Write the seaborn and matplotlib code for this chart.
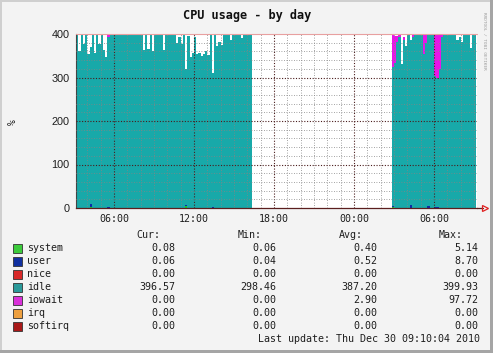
import pandas as pd
import matplotlib
matplotlib.use("Agg")
import matplotlib.pyplot as plt
from matplotlib.patches import Rectangle
from matplotlib.ticker import FixedLocator, MultipleLocator
import seaborn as sns

W, H = 497, 359

series = ["system", "user", "nice", "idle", "iowait", "irq", "softirq"]
fill_colors = ["#22CC22", "#0D2BA8", "#E02020", "#18A9A9", "#E815E8", "#F0A030", "#A01010"]
legend_colors = ["#3CCB3C", "#1030A0", "#D82828", "#2A9A9A", "#D930D9", "#EEA040", "#A81818"]

# 10 minute samples, hours counted from Dec 29 00:00
sample_step = 1 / 6
seg1_start = 3 + 10 / 60   # 03:10
seg2_start = 26 + 50 / 60  # 02:50 next day

idle1 = [399, 360, 396, 375, 398, 352, 360, 398, 356, 397,
         376, 398, 362, 345, 392, 399, 399, 399, 399, 398,
         399, 399, 399, 398, 399, 399, 398, 399, 399, 399,
         362, 396, 365, 398, 360, 398, 396, 399, 397, 362,
         399, 398, 399, 399, 396, 378, 392, 376, 398, 313,
         394, 346, 355, 392, 352, 356, 348, 352, 360, 350,
         396, 310, 398, 372, 380, 374, 398, 399, 399, 386,
         399, 399, 398, 399, 390, 399, 399, 399, 399]
iowait1 = [0, 0, 0, 0, 0, 0, 0, 0, 0, 0,
           0, 0, 0, 2, 6, 0, 0, 0, 0, 0,
           0, 0, 0, 0, 0, 0, 0, 0, 0, 0,
           0, 0, 0, 0, 0, 0, 0, 0, 0, 0,
           0, 0, 0, 0, 0, 0, 0, 0, 0, 0,
           0, 0, 0, 0, 0, 0, 0, 0, 0, 0,
           0, 0, 0, 0, 0, 0, 0, 0, 0, 0,
           0, 0, 0, 0, 0, 0, 0, 0, 0]
user1 = [0.5, 0.4, 0.6, 0.5, 0.4, 0.5, 8.7, 0.6, 0.4, 0.5,
         0.5, 0.4, 0.6, 0.5, 0.7, 0.4, 0.5, 0.4, 0.4, 0.5,
         0.4, 0.5, 0.4, 0.6, 0.4, 0.5, 0.4, 0.5, 0.4, 0.4,
         0.6, 0.5, 0.4, 0.5, 0.6, 0.4, 0.5, 0.4, 0.5, 0.6,
         0.4, 0.5, 0.4, 0.4, 0.5, 0.6, 0.5, 0.6, 0.4, 0.7,
         0.5, 0.6, 0.5, 0.4, 0.6, 0.5, 0.6, 0.5, 0.5, 0.6,
         0.4, 0.7, 0.5, 0.5, 0.4, 0.5, 0.4, 0.4, 0.5, 0.5,
         0.4, 0.5, 0.4, 0.4, 0.5, 0.4, 0.4, 0.5, 0.4]
system1 = [0.4, 0.3, 0.4, 0.4, 0.3, 0.4, 1.2, 0.4, 0.3, 0.4,
           0.4, 0.3, 0.4, 0.5, 0.6, 0.3, 0.4, 0.3, 0.3, 0.4,
           0.3, 0.4, 0.3, 0.4, 0.3, 0.4, 0.3, 0.4, 0.3, 0.3,
           0.4, 0.4, 0.3, 0.4, 0.4, 0.3, 0.4, 0.3, 0.4, 0.4,
           0.3, 0.4, 0.3, 0.3, 0.4, 0.4, 0.4, 0.4, 0.3, 5.14,
           0.4, 0.5, 0.4, 0.3, 0.5, 0.4, 0.5, 0.4, 0.4, 0.5,
           0.3, 0.6, 0.4, 0.4, 0.3, 0.4, 0.3, 0.3, 0.4, 0.4,
           0.3, 0.4, 0.3, 0.3, 0.4, 0.3, 0.3, 0.4, 0.3]

idle2 = [320, 332, 380, 392, 330, 385, 372, 398, 380, 392,
         396, 398, 397, 396, 352, 378, 394, 398, 396, 302,
         298.46, 318, 392, 397, 398, 398, 398, 399, 396, 385,
         392, 380, 398, 397, 396, 366, 398, 396.57]
iowait2 = [75, 62, 15, 4, 0, 8, 0, 0, 0, 4,
           0, 0, 0, 0, 44, 18, 0, 0, 0, 94,
           97.72, 78, 6, 0, 0, 0, 0, 0, 0, 0,
           0, 0, 0, 0, 0, 0, 0, 0]
user2 = [3.0, 0.6, 0.5, 0.4, 0.5, 0.6, 0.4, 0.5, 5.0, 0.5,
         0.4, 0.5, 0.4, 0.5, 0.6, 0.5, 4.0, 0.4, 0.5, 0.7,
         0.8, 0.6, 0.5, 0.4, 0.5, 0.4, 0.4, 0.5, 0.4, 0.5,
         0.4, 0.5, 0.4, 0.4, 0.5, 0.4, 0.4, 0.06]
system2 = [1.5, 0.5, 0.4, 0.3, 0.4, 0.5, 0.3, 0.4, 1.0, 0.4,
           0.3, 0.4, 0.3, 0.4, 0.5, 0.4, 0.8, 0.3, 0.4, 0.6,
           0.7, 0.5, 0.4, 0.3, 0.4, 0.3, 0.3, 0.4, 0.3, 0.4,
           0.3, 0.4, 0.3, 0.3, 0.4, 0.3, 0.3, 0.08]

cur_vals = [0.08, 0.06, 0.00, 396.57, 0.00, 0.00, 0.00]
min_vals = [0.06, 0.04, 0.00, 298.46, 0.00, 0.00, 0.00]
avg_vals = [0.40, 0.52, 0.00, 387.20, 2.90, 0.00, 0.00]
max_vals = [5.14, 8.70, 0.00, 399.93, 97.72, 0.00, 0.00]

x_ticks = [6, 12, 18, 24, 30]
x_tick_labels = ["06:00", "12:00", "18:00", "00:00", "06:00"]
y_ticks = [0, 100, 200, 300, 400]
title = "CPU usage - by day"
last_update = "Last update: Thu Dec 30 09:10:04 2010"
watermark = "RRDTOOL / TOBI OETIKER"

# long table for seaborn's stacked histogram (weights = values)
segments = [
    (seg1_start, {"system": system1, "user": user1, "idle": idle1, "iowait": iowait1}),
    (seg2_start, {"system": system2, "user": user2, "idle": idle2, "iowait": iowait2}),
]
rows = []
for start, vals in segments:
    n = len(vals["idle"])
    for name in series:
        values = vals.get(name, [0.0] * n)
        for i, v in enumerate(values):
            rows.append({"hour": start + (i + 0.5) * sample_step, "series": name, "value": v})
df = pd.DataFrame(rows)


def fx(x):
    return x / W


def fy(y):
    return 1 - y / H


sns.set_style("white")
plt.rcParams["font.family"] = ["DejaVu Sans Mono"]
txt = "#1E1E1E"
mgrid = "#4A1C1C"

fig = plt.figure(figsize=(W / 100, H / 100), dpi=100, facecolor="white")

# grey card with a bevel frame
tf = fig.transFigure
fig.add_artist(Rectangle((0, fy(353)), fx(493), 353 / H, transform=tf,
                         facecolor="#F3F3F3", edgecolor="none", zorder=-10))
fig.add_artist(Rectangle((0, fy(353)), fx(2), 353 / H, transform=tf,
                         facecolor="#CFCFCF", edgecolor="none", zorder=-9))
fig.add_artist(Rectangle((0, fy(2)), fx(493), 2 / H, transform=tf,
                         facecolor="#CFCFCF", edgecolor="none", zorder=-9))
fig.add_artist(Rectangle((fx(490), fy(353)), fx(3), 353 / H, transform=tf,
                         facecolor="#A5A5A5", edgecolor="none", zorder=-9))
fig.add_artist(Rectangle((0, fy(353)), fx(493), 3 / H, transform=tf,
                         facecolor="#A5A5A5", edgecolor="none", zorder=-9))

ax = fig.add_axes([fx(76), fy(208), (477 - 76) / W, (208 - 34) / H])
ax.set_facecolor("white")

# first hue level ends up on top of the stack, so pass the order reversed
sns.histplot(data=df, x="hour", weights="value", hue="series",
             hue_order=series[::-1], palette=dict(zip(series, fill_colors)),
             multiple="stack", binwidth=sample_step, binrange=(19 / 6, 199 / 6),
             element="step", fill=True, alpha=1, linewidth=0, legend=False, ax=ax)

ax.set_xlim(3.15, 33.22)
ax.set_ylim(0, 400)
ax.set_xlabel("")
ax.set_ylabel("")

ax.set_axisbelow(False)
ax.xaxis.set_major_locator(FixedLocator(x_ticks))
ax.xaxis.set_minor_locator(MultipleLocator(1))
ax.yaxis.set_major_locator(FixedLocator(y_ticks))
ax.yaxis.set_minor_locator(MultipleLocator(20))
ax.grid(which="minor", color="#858585", linestyle=(0, (1, 2)), linewidth=0.6)
ax.grid(which="major", axis="x", color=mgrid, linestyle=(0, (1, 1.5)), linewidth=0.8)
# horizontal major lines by hand: the top one is light red in the original
for v in y_ticks[1:-1]:
    ax.axhline(v, color=mgrid, linestyle=(0, (1, 1.5)), linewidth=0.8, zorder=2.6)
ax.axhline(y_ticks[-1], color="#E8A0A0", linewidth=0.8, zorder=2.6, clip_on=False)

ax.set_xticklabels(x_tick_labels, fontsize=7.2, color=txt)
ax.set_yticklabels([str(v) for v in y_ticks])
for lab in ax.get_yticklabels():
    lab.set_fontfamily("Liberation Sans")
    lab.set_fontsize(7.8)
    lab.set_color(txt)
ax.tick_params(which="major", direction="inout", length=4, width=0.7, color="#333333", pad=2.5)
ax.tick_params(which="minor", length=0)

for side in ["top", "right"]:
    ax.spines[side].set_visible(False)
ax.spines["left"].set_color("#444444")
ax.spines["left"].set_linewidth(0.8)
ax.spines["bottom"].set_color("#5A1E1E")
ax.spines["bottom"].set_linewidth(0.9)

# axis arrow
ax.plot([1, 1.016], [0, 0], transform=ax.transAxes, color="#5A1E1E", lw=0.9, clip_on=False)
ax.plot([1.02], [0], transform=ax.transAxes, marker=">", ms=5, mfc="none",
        mec="#E02020", mew=0.9, clip_on=False)

fig.text(fx(247), fy(16), title, ha="center", va="center", fontsize=8.6,
         fontweight="bold", color="#111111")
fig.text(fx(13), fy(122), "%", ha="center", va="center", rotation=90,
         fontsize=7, color=txt)
fig.text(fx(484), fy(41), watermark, ha="center", va="center", rotation=270,
         fontsize=3.2, color="#9A9A9A")

# legend table
col_right = [175, 276, 377, 478]
head_right = [160, 262, 363, 463]
heads = ["Cur:", "Min:", "Avg:", "Max:"]
for xr, h in zip(head_right, heads):
    fig.text(fx(xr), fy(235), h, ha="right", va="center", fontsize=7.2, color=txt)
for k, name in enumerate(series):
    y = 248.3 + 13 * k
    fig.add_artist(Rectangle((fx(13), fy(y + 4.5)), 9 / W, 9 / H, transform=tf,
                             facecolor=legend_colors[k], edgecolor="#333333", lw=0.6))
    fig.text(fx(27), fy(y), name, ha="left", va="center", fontsize=7.2, color=txt)
    for xr, vals in zip(col_right, [cur_vals, min_vals, avg_vals, max_vals]):
        fig.text(fx(xr), fy(y), f"{vals[k]:.2f}", ha="right", va="center",
                 fontsize=7.2, color=txt)
fig.text(fx(480), fy(339.3), last_update, ha="right", va="center", fontsize=7.2, color=txt)

fig.savefig("out.png", dpi=100, facecolor="white")
